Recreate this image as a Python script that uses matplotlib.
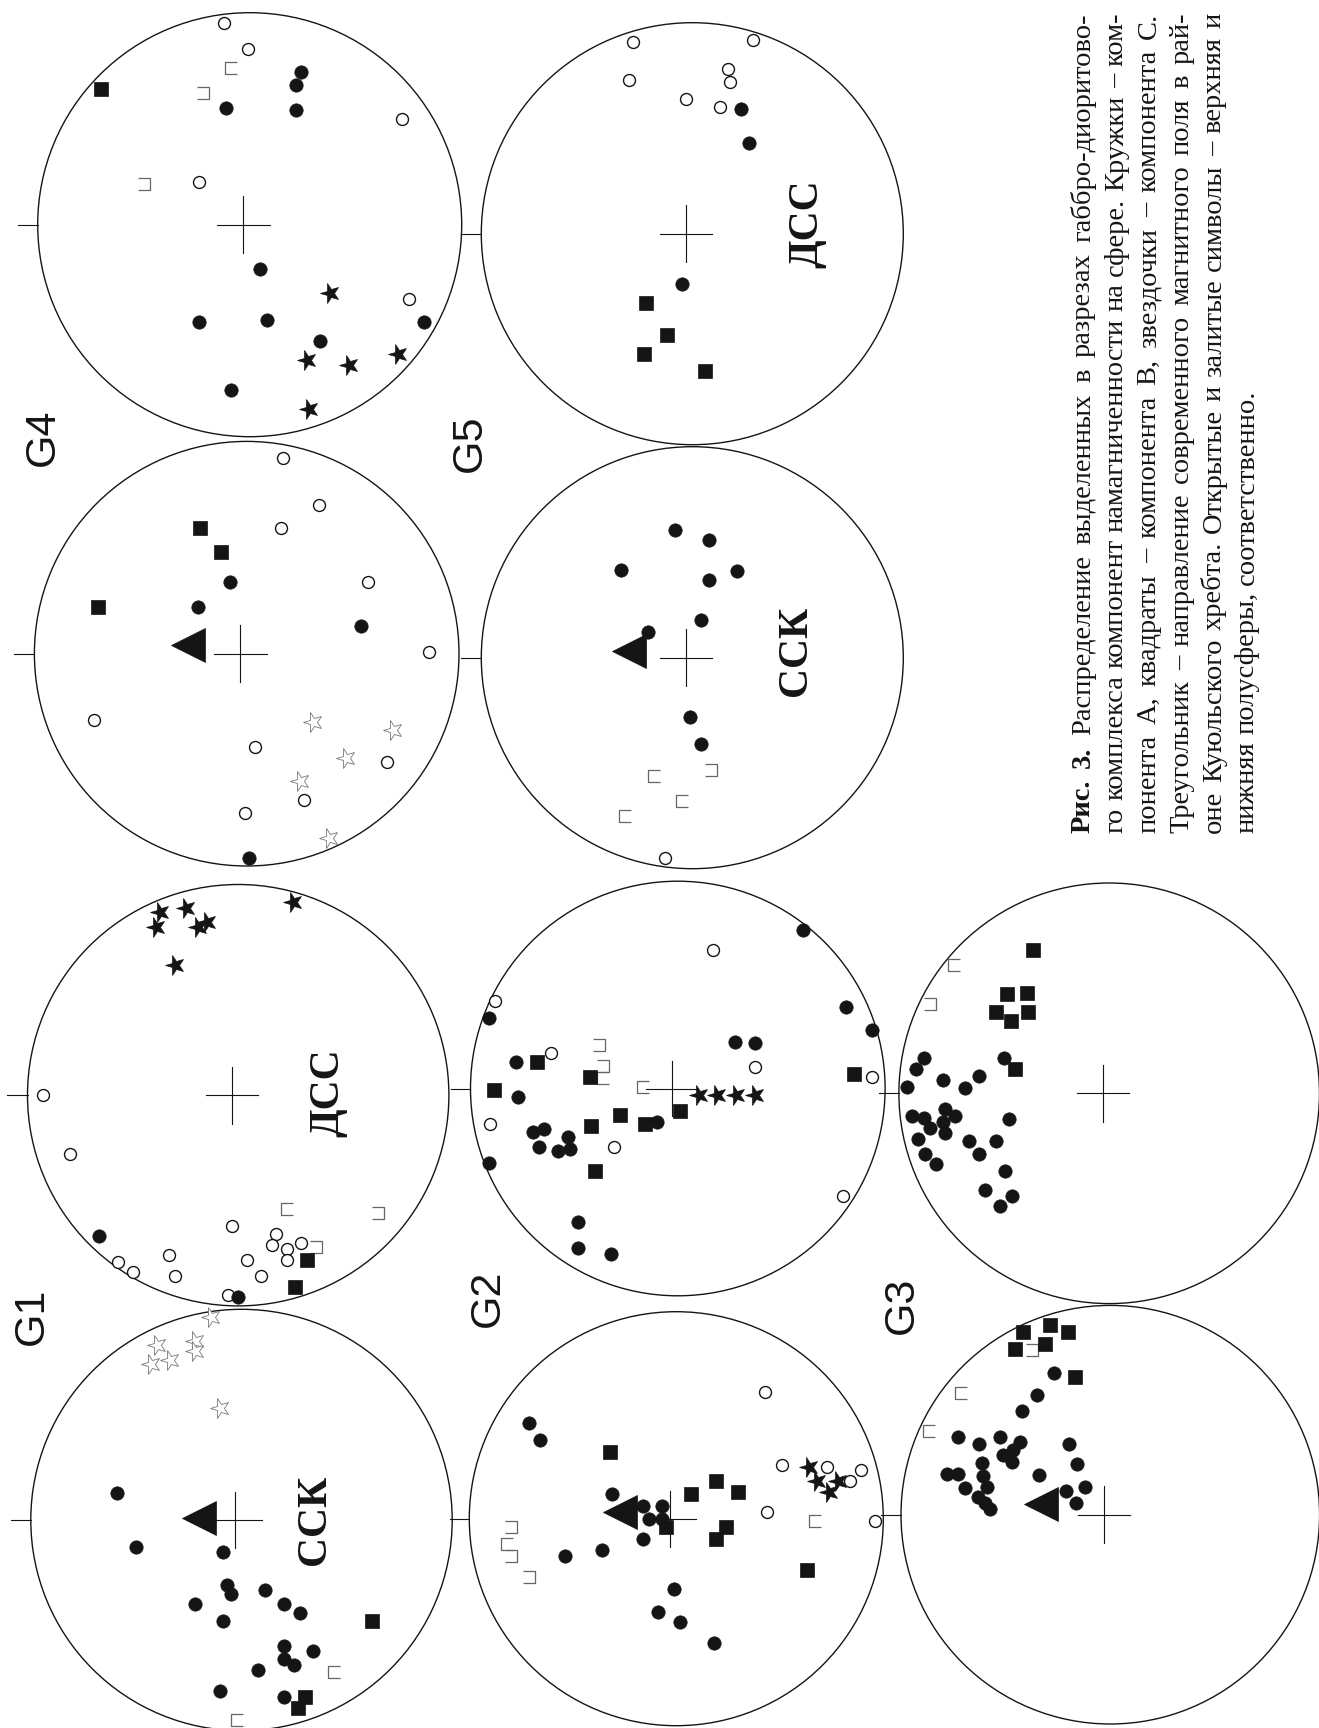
"""
Stereo projections of magnetisation components (G1-G5), page printed rotated.
Each panel: unit circle, x to the right, y up (as seen on the page image).
Symbol codes:  A/a = component A (circles), B/b/d = component B (squares),
C/c = component C (stars), T = present-day field direction.
Upper case = filled (lower hemisphere), lower case = open (upper hemisphere);
'b' and 'd' are the open squares, printed as three-sided brackets.
"""
import matplotlib
matplotlib.use('Agg')
import matplotlib.pyplot as plt
from matplotlib.patches import Circle
from matplotlib.path import Path
from matplotlib.markers import MarkerStyle
from matplotlib.transforms import Affine2D

# ── Data ──────────────────────────────────────────────────────────────────────
G4_DSS = [
    ('a', -0.12, 0.95), ('a', -0.01, 0.83), ('a', 0.72, 0.50), ('a', -0.24, 0.20), ('a', 0.75, -0.35),
    ('A', 0.24, 0.72), ('A', 0.22, 0.66), ('A', -0.11, 0.55), ('A', 0.22, 0.54), ('A', 0.05, -0.21),
    ('A', -0.24, -0.46), ('A', 0.08, -0.45), ('A', 0.33, -0.55), ('A', 0.82, -0.46), ('A', -0.09, -0.78),
    ('B', -0.70, 0.64),
    ('b', -0.09, 0.74), ('d', -0.22, 0.62), ('d', -0.50, 0.19),
    ('C', 0.38, -0.32), ('C', 0.27, -0.64), ('C', 0.47, -0.66), ('C', 0.70, -0.61), ('C', 0.28, -0.87),
]
G4_SSK = [
    ('a', 0.17, 0.92), ('a', 0.34, 0.70), ('a', 0.16, 0.59), ('a', 0.57, 0.34), ('a', 0.86, 0.01),
    ('a', -0.72, -0.31), ('a', 0.04, -0.44), ('a', 0.66, -0.51), ('a', 0.27, -0.69), ('a', -0.01, -0.75),
    ('A', -0.08, 0.34), ('A', -0.23, 0.22), ('A', 0.54, 0.13), ('A', 0.01, -0.96),
    ('B', -0.22, 0.59), ('B', -0.12, 0.48), ('B', -0.70, 0.22),
    ('c', 0.31, -0.32), ('c', 0.69, -0.36), ('c', 0.47, -0.49), ('c', 0.25, -0.60), ('c', 0.39, -0.87),
    ('T', -0.275, 0.04),
]
G5_DSS = [
    ('a', -0.28, 0.91), ('a', 0.29, 0.92), ('a', 0.17, 0.78), ('a', 0.18, 0.72), ('a', -0.30, 0.73),
    ('a', -0.03, 0.64), ('a', 0.13, 0.60),
    ('A', 0.23, 0.59), ('A', 0.27, 0.43), ('A', -0.05, -0.24),
    ('B', -0.22, -0.33), ('B', -0.12, -0.48), ('B', -0.23, -0.57), ('B', 0.06, -0.65),
]
G5_SSK = [
    ('A', -0.08, 0.605), ('A', 0.08, 0.56), ('A', -0.34, 0.415), ('A', 0.08, 0.37), ('A', 0.21, 0.41),
    ('A', 0.04, 0.18), ('A', -0.21, 0.12), ('A', -0.01, -0.28), ('A', 0.04, -0.41),
    ('b', -0.18, -0.56), ('d', 0.09, -0.53), ('b', -0.05, -0.68), ('b', -0.32, -0.75),
    ('a', -0.13, -0.95),
    ('T', -0.30, 0.03),
]
G1_DSS = [
    ('C', -0.37, 0.87), ('C', -0.25, 0.89), ('C', -0.39, 0.80), ('C', -0.19, 0.80), ('C', -0.15, 0.82),
    ('C', -0.30, 0.62), ('C', 0.26, 0.915),
    ('a', -0.925, 0.00), ('a', -0.80, -0.28), ('a', -0.03, -0.62), ('a', -0.33, -0.76), ('a', -0.57, -0.79),
    ('a', -0.50, -0.84), ('a', -0.30, -0.86), ('a', 0.04, -0.78), ('a', 0.18, -0.66), ('a', 0.16, -0.71),
    ('a', 0.23, -0.73), ('a', 0.30, -0.70), ('a', 0.23, -0.78), ('a', 0.11, -0.86), ('a', -0.05, -0.95),
    ('A', -0.66, -0.67), ('A', 0.00, -0.96),
    ('B', 0.325, -0.78), ('B', 0.27, -0.91),
    ('b', 0.23, -0.54), ('d', 0.665, -0.56), ('d', 0.37, -0.72),
]
G1_SSK = [
    ('c', -0.145, 0.965), ('c', -0.40, 0.83), ('c', -0.22, 0.85), ('c', -0.22, 0.80), ('c', -0.34, 0.76),
    ('c', -0.43, 0.74), ('c', -0.10, 0.53),
    ('A', -0.59, 0.13), ('A', -0.50, -0.13), ('A', -0.09, -0.15), ('A', -0.07, -0.31), ('A', -0.05, -0.35),
    ('A', 0.11, -0.33), ('A', -0.22, -0.40), ('A', 0.20, -0.40), ('A', 0.28, -0.44), ('A', -0.09, -0.48),
    ('A', 0.20, -0.60), ('A', 0.20, -0.66), ('A', 0.25, -0.69), ('A', 0.34, -0.62), ('A', 0.08, -0.71),
    ('A', -0.10, -0.81), ('A', 0.20, -0.84),
    ('B', 0.62, -0.48), ('B', 0.30, -0.84), ('B', 0.27, -0.89),
    ('b', 0.44, -0.72), ('b', -0.02, -0.95),
    ('T', -0.20, 0.01),
]
G2_DSS = [
    ('A', 0.605, 0.765), ('A', 0.81, 0.395), ('A', 0.935, 0.28), ('A', 0.275, 0.225), ('A', 0.37, 0.22),
    ('A', -0.91, 0.34), ('A', -0.78, 0.13), ('A', -0.77, -0.04), ('A', -0.70, -0.21), ('A', -0.645, -0.195),
    ('A', -0.67, -0.28), ('A', -0.58, -0.30), ('A', -0.53, -0.235), ('A', -0.52, -0.29), ('A', -0.10, -0.16),
    ('A', -0.91, -0.36), ('A', -0.48, -0.645), ('A', -0.48, -0.77), ('A', -0.32, -0.80),
    ('a', 0.17, 0.67), ('a', -0.88, 0.42), ('a', -0.61, 0.17), ('a', 0.37, 0.105), ('a', 0.935, 0.057),
    ('a', -0.905, -0.17), ('a', -0.31, -0.28), ('a', 0.795, -0.52),
    ('B', -0.68, 0.13), ('B', -0.887, -0.007), ('B', -0.425, 0.057), ('B', -0.28, -0.13), ('B', -0.42, -0.18),
    ('B', -0.16, -0.17), ('B', 0.01, -0.107), ('B', -0.40, -0.40), ('B', 0.85, 0.07),
    ('d', -0.38, 0.21), ('d', -0.36, 0.11), ('b', -0.36, 0.05), ('b', -0.17, 0.006),
    ('C', 0.10, -0.03), ('C', 0.19, -0.03), ('C', 0.28, -0.03), ('C', 0.37, -0.03),
]
G2_SSK = [
    ('A', -0.71, 0.46), ('A', -0.66, 0.38), ('A', -0.31, 0.12), ('A', -0.16, 0.06), ('A', -0.13, 0.00),
    ('A', -0.07, 0.00), ('A', -0.07, 0.06), ('A', -0.16, -0.10), ('A', -0.36, -0.15), ('A', -0.54, -0.18),
    ('A', -0.01, -0.34), ('A', -0.09, -0.45), ('A', 0.02, -0.50), ('A', 0.18, -0.60),
    ('B', -0.32, 0.32), ('B', 0.07, 0.12), ('B', 0.19, 0.18), ('B', 0.30, 0.13), ('B', -0.05, -0.04),
    ('B', 0.24, -0.04), ('B', 0.19, -0.10), ('B', 0.63, -0.25),
    ('a', 0.43, 0.61), ('a', 0.51, 0.26), ('a', 0.73, 0.25), ('a', 0.89, 0.235), ('a', 0.84, 0.18),
    ('a', 0.44, 0.03), ('a', 0.96, -0.01),
    ('C', 0.64, 0.25), ('C', 0.68, 0.18), ('C', 0.78, 0.18), ('C', 0.74, 0.13),
    ('d', -0.80, -0.04), ('b', -0.82, -0.12), ('d', -0.80, -0.18), ('d', -0.71, -0.28), ('b', 0.67, -0.01),
    ('T', -0.27, 0.03),
]
G3_DSS = [
    ('B', -0.36, 0.68), ('B', -0.486, 0.47), ('B', -0.39, 0.475), ('B', -0.54, 0.385), ('B', -0.466, 0.345),
    ('B', -0.386, 0.385), ('B', -0.446, 0.116),
    ('b', -0.74, 0.61), ('d', -0.85, 0.425),
    ('A', -0.50, 0.17), ('A', -0.88, 0.166), ('A', -0.92, 0.114), ('A', -0.963, 0.03), ('A', -0.79, 0.063),
    ('A', -0.684, 0.024), ('A', -0.62, 0.084), ('A', -0.936, -0.106), ('A', -0.883, -0.119), ('A', -0.853, -0.166),
    ('A', -0.78, -0.074), ('A', -0.79, -0.135), ('A', -0.733, -0.106), ('A', -0.779, -0.187), ('A', -0.907, -0.217),
    ('A', -0.876, -0.29), ('A', -0.825, -0.335), ('A', -0.478, -0.122), ('A', -0.665, -0.225), ('A', -0.54, -0.227),
    ('A', -0.62, -0.288), ('A', -0.494, -0.368), ('A', -0.589, -0.461), ('A', -0.464, -0.487), ('A', -0.519, -0.536),
]
G3_SSK = [
    ('B', -0.416, 0.871), ('B', -0.287, 0.906), ('B', -0.20, 0.871), ('B', -0.314, 0.815), ('B', -0.455, 0.79),
    ('B', -0.167, 0.656),
    ('d', -0.376, 0.787), ('b', -0.715, 0.583), ('b', -0.865, 0.40),
    ('A', -0.27, 0.675), ('A', -0.35, 0.57), ('A', -0.42, 0.495), ('A', -0.726, 0.373), ('A', -0.627, 0.34),
    ('A', -0.525, 0.369), ('A', -0.43, 0.345), ('A', -0.463, 0.309), ('A', -0.511, 0.285), ('A', -0.468, 0.253),
    ('A', -0.615, 0.245), ('A', -0.607, 0.186), ('A', -0.59, 0.134), ('A', -0.78, 0.194), ('A', -0.726, 0.194),
    ('A', -0.693, 0.126), ('A', -0.63, 0.086), ('A', -0.60, 0.054), ('A', -0.575, 0.027), ('A', -0.34, 0.19),
    ('A', -0.196, 0.34), ('A', -0.158, 0.242), ('A', -0.12, 0.134), ('A', -0.213, 0.113), ('A', -0.166, 0.057),
    ('T', -0.33, 0.05),
]

GROUP_LABELS = ['G4', 'G5', 'G1', 'G2', 'G3']
PANEL_TEXTS = {'G5_DSS': 'ДСС', 'G1_DSS': 'ДСС', 'G5_SSK': 'ССК', 'G1_SSK': 'ССК'}

CAPTION_LINES = [
    'Рис. 3. Распределение выделенных в разрезах габбро-диоритово-',
    'го комплекса компонент намагниченности на сфере. Кружки – ком-',
    'понента А, квадраты – компонента В, звездочки – компонента С.',
    'Треугольник – направление современного магнитного поля в рай-',
    'оне Куюльского хребта. Открытые и залитые символы – верхняя и',
    'нижняя полусферы, соответственно.',
]

# ── Layout (page pixels, y from top) ─────────────────────────────────────────
W, H = 1319, 1728
PANELS = [  # name, data, centre x, centre y, radius
    ('G4_DSS', G4_DSS, 249.7, 224.7, 212.0),
    ('G4_SSK', G4_SSK, 246.7, 653.7, 212.3),
    ('G5_DSS', G5_DSS, 692.3, 233.7, 211.0),
    ('G5_SSK', G5_SSK, 692.3, 657.7, 211.0),
    ('G1_DSS', G1_DSS, 238.2, 1095.2, 210.7),
    ('G1_SSK', G1_SSK, 241.5, 1520.0, 210.7),
    ('G2_DSS', G2_DSS, 677.8, 1088.5, 207.3),
    ('G2_SSK', G2_SSK, 676.3, 1518.7, 207.0),
    ('G3_DSS', G3_DSS, 1109.2, 1093.3, 210.3),
    ('G3_SSK', G3_SSK, 1110.3, 1514.7, 209.3),
]
LABEL_XY = [(43, 437), (470, 443), (32, 1316), (488, 1298), (902, 1305)]
TEXT_XY = {'G5_DSS': (0.545, 0.046), 'G1_DSS': (0.43, 0.01),
           'G5_SSK': (0.49, 0.03), 'G1_SSK': (0.35, 0.0)}
CROSS_X = -0.03

INK = '#151515'


def bracket(flip):
    s = -1 if flip else 1
    verts = [(s * 0.5, 0.5), (-s * 0.5, 0.5), (-s * 0.5, -0.5), (s * 0.5, -0.5)]
    codes = [Path.MOVETO, Path.LINETO, Path.LINETO, Path.LINETO]
    return Path(verts, codes)


ROT90 = Affine2D().rotate_deg(90)
STYLES = {
    'a': dict(marker='o', ms=8.6, mfc='white', mec=INK, mew=1.0, zorder=3),
    'c': dict(marker=MarkerStyle('*', transform=ROT90), ms=15, mfc='white', mec='#777777', mew=0.6, zorder=3),
    'b': dict(marker=bracket(False), ms=8.5, mfc='none', mec='#666666', mew=0.9, zorder=3),
    'd': dict(marker=bracket(True), ms=8.5, mfc='none', mec='#666666', mew=0.9, zorder=3),
    'A': dict(marker='o', ms=9.6, mfc=INK, mec=INK, mew=0.5, zorder=4),
    'B': dict(marker='s', ms=9.4, mfc=INK, mec=INK, mew=0.5, zorder=4),
    'C': dict(marker=MarkerStyle('*', transform=ROT90), ms=15, mfc=INK, mec=INK, mew=0.5, zorder=4),
    'T': dict(marker='<', ms=25, mfc=INK, mec=INK, mew=0.5, zorder=5),
}


def draw_panel(fig, name, data, cx, cy, r):
    ax = fig.add_axes([(cx - r) / W, 1 - (cy + r) / H, 2 * r / W, 2 * r / H])
    ax.set_xlim(-1, 1)
    ax.set_ylim(-1, 1)
    ax.set_aspect('equal')
    ax.axis('off')
    ax.add_patch(Circle((0, 0), 1, fill=False, lw=1.0, ec=INK, clip_on=False, zorder=1))
    ax.plot([CROSS_X - 0.125, CROSS_X + 0.125], [0, 0], color=INK, lw=0.8, zorder=2)
    ax.plot([CROSS_X, CROSS_X], [-0.135, 0.135], color=INK, lw=0.8, zorder=2)
    ax.plot([-1.095, -1.0], [0, 0], color=INK, lw=0.8, clip_on=False, zorder=2)
    for sym, style in STYLES.items():
        pts = [(x, y) for s, x, y in data if s == sym]
        if not pts:
            continue
        xs, ys = zip(*pts)
        ax.plot(xs, ys, ls='none', clip_on=False, **style)
    if name in PANEL_TEXTS:
        tx, ty = TEXT_XY[name]
        ax.text(tx, ty, PANEL_TEXTS[name], rotation=90, ha='center', va='center',
                fontsize=30, fontweight='bold', family='Liberation Serif', color=INK)
    return ax


def draw_caption(fig):
    renderer = fig.canvas.get_renderer()
    fs = 20.5
    x0, step = 1090, 32.7          # baseline of first line, line pitch
    y_start, y_end = 833, 13       # lines run bottom -> top
    space = 0.25 * fs * fig.dpi / 72
    for i, line in enumerate(CAPTION_LINES):
        words = line.split(' ')
        texts = []
        for j, w in enumerate(words):
            bold = (i == 0 and j < 2)
            t = fig.text(0, 0, w, rotation=90, rotation_mode='anchor', ha='left', va='baseline',
                         fontsize=fs, family='Liberation Serif', color=INK,
                         fontweight='bold' if bold else 'normal')
            texts.append(t)
        lens = [t.get_window_extent(renderer).height for t in texts]
        if i < len(CAPTION_LINES) - 1:
            gap = max((y_start - y_end - sum(lens)) / (len(words) - 1), 0.4 * space)
        else:
            gap = space
        y = y_start
        xb = x0 + i * step
        for t, L in zip(texts, lens):
            t.set_position((xb / W, (H - y) / H))
            y -= L + gap


def main():
    fig = plt.figure(figsize=(W / 100, H / 100), dpi=100)
    fig.patch.set_facecolor('white')

    for name, data, cx, cy, r in PANELS:
        draw_panel(fig, name, data, cx, cy, r)

    for lab, (lx, ly) in zip(GROUP_LABELS, LABEL_XY):
        fig.text(lx / W, 1 - ly / H, lab, rotation=90, ha='center', va='center',
                 fontsize=31, family='Liberation Sans', color=INK)

    draw_caption(fig)
    fig.savefig('out.png', dpi=100)
    plt.close(fig)


if __name__ == '__main__':
    main()
